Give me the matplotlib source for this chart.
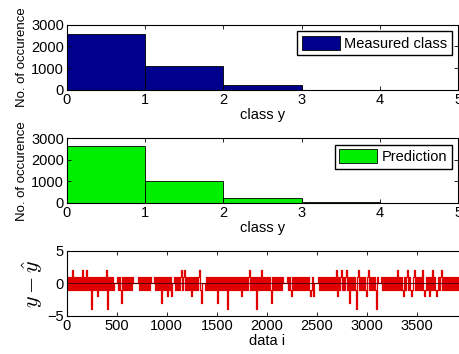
import numpy as np
import matplotlib
matplotlib.use("Agg")
import matplotlib.pyplot as plt

plt.rcParams['font.family'] = ['Liberation Sans', 'DejaVu Sans']
plt.rcParams['mathtext.fontset'] = 'cm'

# histogram counts per class (bins [0,1), [1,2), ...)
class_left = [0, 1, 2, 3, 4]
measured_counts = [2570, 1120, 230, 0, 0]
predicted_counts = [2655, 1010, 205, 50, 0]

# residual y - yhat, read every 10th sample
# '-' = -1, '+' = 1, '0' = 0, 'a' = -2, 'b' = -3, 'c' = -4, '2' = 2
resid_str = (
    "+-+-+-2-+-" "+-+-+-2-+-" "2-+-+c+-+-" "+a+-+-+-+-" "2c+-+-+-00"
    "0+-+-b+-+-" "+-+-+-+000" "00+-+-+-+-" "+-+-+000+-" "+-+-+b+-+-"
    "+a+-+a00+-" "+-+-+2-+2-" "+-+-+a+-+-" "+-+2-b000-" "+-+-+-+-+-"
    "+b+-+-+-+-" "+c+-+-+-+-" "+-+-+a+-+-" "+-+2-+-+-+" "c+-+-2-+-+"
    "-+-+-b+-+-" "+-+-+-+000" "0+-+-a+-+-" "+-+-+-+-+-" "+-+-a-+a00"
    "00+-+-+-+-" "+-+-+-+-+-" "2a+-+2-+-+" "2-+b+-+-+-" "c+2-+-+-+-"
    "a+2-+-+-+-" "c+000+-+-+" "-+-+-+-+-+" "-2-+-+-a+-" "+2-+-a-+2-"
    "+-+-+-2-a-" "+-+a+-2-+-" "a-+-+2-+-+" "-+-+-+-+-+" "-+-"
)
code = {'-': -1, '+': 1, '0': 0, 'a': -2, 'b': -3, 'c': -4, '2': 2}
resid = np.array([code[c] for c in resid_str])
idx = np.arange(len(resid)) * 10

fig = plt.figure(figsize=(4.6, 3.54), dpi=100)

def style(ax):
    ax.tick_params(direction='in', top=True, right=True, labelsize=10.5,
                   length=3, width=0.6, pad=2)
    for s in ax.spines.values():
        s.set_linewidth(0.8)

leg_kw = dict(loc='upper right', fontsize=10.5, fancybox=False, edgecolor='k',
              framealpha=1, handlelength=2.6, handleheight=1.1,
              borderpad=0.3, handletextpad=0.3, borderaxespad=0.45)

ax1 = fig.add_axes([0.145, 0.746, 0.851, 0.184])
ax1.bar(class_left, measured_counts, width=1, align='edge', color='#00008C',
        edgecolor='k', linewidth=0.6, label='Measured class')
ax1.set_xlim(0, 5)
ax1.set_ylim(0, 3000)
ax1.set_yticks([0, 1000, 2000, 3000])
ax1.set_xlabel('class y', fontsize=10.5, labelpad=1)
ax1.set_ylabel('No. of occurence', fontsize=9.5, labelpad=2)
ax1.legend(**leg_kw)
style(ax1)

ax2 = fig.add_axes([0.145, 0.427, 0.851, 0.182])
ax2.bar(class_left, predicted_counts, width=1, align='edge', color='#00EE00',
        edgecolor='k', linewidth=0.6, label='Prediction')
ax2.set_xlim(0, 5)
ax2.set_ylim(0, 3000)
ax2.set_yticks([0, 1000, 2000, 3000])
ax2.set_xlabel('class y', fontsize=10.5, labelpad=1)
ax2.set_ylabel('No. of occurence', fontsize=9.5, labelpad=2)
ax2.legend(**leg_kw)
style(ax2)

ax3 = fig.add_axes([0.145, 0.108, 0.870, 0.184])
ax3.plot(idx, resid, color='#E00000', linewidth=0.9, drawstyle='steps-mid')
ax3.axhline(0, color='#400000', linewidth=0.6)
ax3.set_xlim(0, 4000)
ax3.set_ylim(-5, 5)
ax3.set_yticks([-5, 0, 5])
ax3.set_xticks(np.arange(0, 4000, 500))
ax3.set_xlabel('data i', fontsize=10.5, labelpad=1)
ax3.set_ylabel(r'$y-\hat{y}$', fontsize=16, labelpad=2)
style(ax3)

fig.savefig('out.png', dpi=100)
